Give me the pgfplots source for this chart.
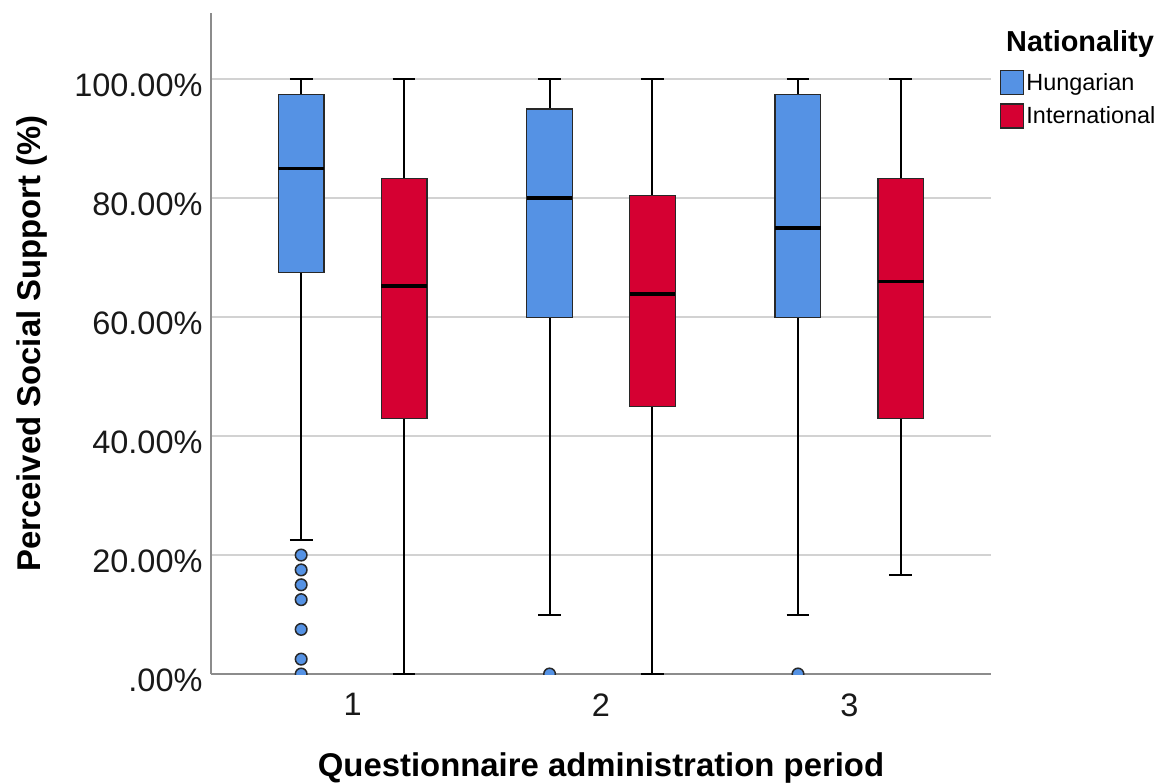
\documentclass[border=0pt]{standalone}
\usepackage{pgfplots}
\pgfplotsset{compat=1.18}
\usepgfplotslibrary{statistics}
\usepackage{fontspec}
\setmainfont{Liberation Sans}
\definecolor{hun}{RGB}{85,146,228}
\definecolor{intl}{RGB}{213,0,50}
\definecolor{gridc}{RGB}{210,210,210}
\definecolor{axc}{RGB}{140,140,140}
\definecolor{edge}{RGB}{40,40,40}

\pgfplotsset{
  bxcommon/.style={
    boxplot/draw direction=y,
    boxplot/box extend=0.184,
    boxplot/whisker extend=0.0913,
    boxplot/every median/.style={line width=3.8bp, draw=black},
    boxplot/every whisker/.style={line width=2bp, draw=black},
    mark=none, solid},
  hbox/.style={bxcommon, boxplot/every box/.style={fill=hun, draw=edge, line width=1.3bp}},
  ibox/.style={bxcommon, boxplot/every box/.style={fill=intl, draw=edge, line width=1.3bp}},
}

\begin{document}
\begin{tikzpicture}
\begin{axis}[
  at={(0,0)}, anchor=south west,
  scale only axis,
  width=780bp, height=661bp,
  xmin=0.43, xmax=3.57,
  ymin=0, ymax=111.15,
  axis x line*=bottom, axis y line*=left,
  axis line style={draw=axc, line width=2bp, -},
  major tick length=0pt,
  xtick={1,2,3}, xticklabels={1,2,3},
  ytick={0,20,40,60,80,100},
  yticklabels={.00\%,20.00\%,40.00\%,60.00\%,80.00\%,100.00\%},
  ymajorgrids, grid style={draw=gridc, line width=2bp},
  tick label style={font=\fontsize{32.6}{36}\selectfont, text=black!90},
  yticklabel style={yshift=-6bp, xshift=-5bp},
  xticklabel style={yshift=-16bp},
  xlabel={Questionnaire administration period},
  ylabel={Perceived Social Support (\%)},
  label style={font=\bfseries\fontsize{33}{36}\selectfont, inner sep=0pt, anchor=base},
  xlabel style={at={(axis description cs:0.5,-0.1554)}},
  ylabel style={at={(axis description cs:-0.2192,0.5)}},
  clip marker paths=true,
  legend cell align=left,
  legend style={at={(axis description cs:1.0115,0.9138)}, anchor=north west,
    draw=none, fill=none, inner sep=0pt, row sep=8bp,
    font=\fontsize{23.5}{26}\selectfont, nodes={inner sep=2bp}},
]
\addlegendimage{legend image code/.code={\draw[fill=hun,draw=edge,line width=1.3bp] (0bp,-12bp) rectangle (23bp,12bp);}}
\addlegendentry{Hungarian}
\addlegendimage{legend image code/.code={\draw[fill=intl,draw=edge,line width=1.3bp] (0bp,-12bp) rectangle (23bp,12bp);}}
\addlegendentry{International}

% Period 1
\addplot[hbox, boxplot prepared={draw position=0.793, lower whisker=22.5, lower quartile=67.5, median=85, upper quartile=97.5, upper whisker=100}] coordinates {};
\addplot[ibox, boxplot prepared={draw position=1.207, lower whisker=0, lower quartile=43, median=65.2, upper quartile=83.3, upper whisker=100}] coordinates {};
% Period 2
\addplot[hbox, boxplot prepared={draw position=1.793, lower whisker=10, lower quartile=60, median=80, upper quartile=95, upper whisker=100}] coordinates {};
\addplot[ibox, boxplot prepared={draw position=2.207, lower whisker=0, lower quartile=45, median=63.9, upper quartile=80.5, upper whisker=100}] coordinates {};
% Period 3
\addplot[hbox, boxplot prepared={draw position=2.793, lower whisker=10, lower quartile=60, median=75, upper quartile=97.5, upper whisker=100}] coordinates {};
\addplot[ibox, boxplot prepared={draw position=3.207, lower whisker=16.7, lower quartile=43, median=66, upper quartile=83.3, upper whisker=100}] coordinates {};

% Outliers
\addplot[only marks, mark=*, mark size=5.8bp, mark options={fill=hun, draw=edge, line width=1.5bp}]
  coordinates {(0.793,0) (0.793,2.5) (0.793,7.5) (0.793,12.5) (0.793,15) (0.793,17.5) (0.793,20) (1.793,0) (2.793,0)};
\end{axis}
\node[anchor=base west, inner sep=0pt] at (795bp,622bp) {\bfseries\fontsize{29}{30}\selectfont Nationality};
\pgfresetboundingbox
\useasboundingbox (-211bp,-110bp) rectangle (954bp,674bp);
\end{tikzpicture}
\end{document}
